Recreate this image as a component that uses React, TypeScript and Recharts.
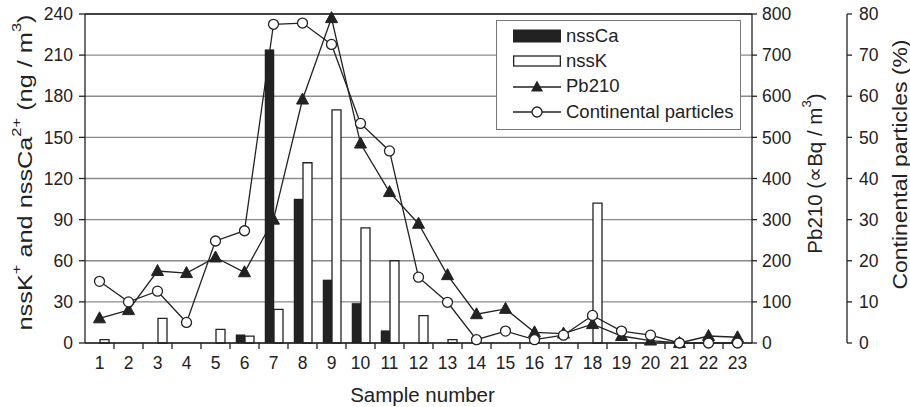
import React from 'react';
import { ComposedChart, Bar, Line, XAxis, YAxis, CartesianGrid, Legend, ReferenceLine } from 'recharts';

const samples = ['1', '2', '3', '4', '5', '6', '7', '8', '9', '10', '11', '12', '13', '14', '15', '16', '17', '18', '19', '20', '21', '22', '23'];
const nssCa = [0, 0, 0, 0, 0, 6, 214, 105, 46, 29, 9, 0, 0, 0, 0, 0, 0, 0, 0, 0, 0, 0, 0];
const nssK = [2.5, 0, 18, 0, 10, 5, 24.5, 131.5, 170, 84, 60, 20, 2.5, 0, 0, 0, 0, 102, 0, 0, 0, 0, 0];
const pb210 = [60, 80, 175, 170, 208, 172, 300, 592, 790, 485, 367, 290, 165, 70, 83, 26, 23, 46, 17, 6, 0, 17, 14];
const continental = [15, 10, 12.6, 5, 24.8, 27.3, 77.5, 77.8, 72.6, 53.4, 46.7, 16, 9.9, 0.8, 2.9, 0.8, 1.9, 6.7, 2.9, 1.9, 0, 0, 0];

const leftTicks = [0, 30, 60, 90, 120, 150, 180, 210, 240];
const pbTicks = [0, 100, 200, 300, 400, 500, 600, 700, 800];
const contTicks = [0, 10, 20, 30, 40, 50, 60, 70, 80];

const legendItems = ['nssCa', 'nssK', 'Pb210', 'Continental particles'];

const data = samples.map((s, i) => ({
  sample: s,
  nssCa: nssCa[i],
  nssK: nssK[i],
  pb210: pb210[i],
  continental: continental[i],
}));

const FONT = '"Liberation Sans", Arial, Helvetica, sans-serif';
const INK = '#222';
const tickStyle = { fontSize: 17.5, fill: INK, fontFamily: FONT };
const titleStyle: React.CSSProperties = { fontSize: 20.5, fill: INK, fontFamily: FONT };

const XTick = (props: any) => {
  const { x, y, payload, index } = props;
  const half = payload && payload.offset ? payload.offset : 14.5;
  const axisY = y - 14;
  return (
    <g>
      {index > 0 && (
        <line x1={x - half} x2={x - half} y1={axisY} y2={axisY + 6} stroke={INK} strokeWidth={1.3} />
      )}
      <text x={x} y={y} dy="0.71em" textAnchor="middle" style={tickStyle}>
        {payload.value}
      </text>
    </g>
  );
};

const Triangle = (props: any) => {
  const { cx, cy, index } = props;
  if (cx == null || cy == null) return <g key={`t-${index}`} />;
  return (
    <path
      key={`t-${index}`}
      d={`M${cx},${cy - 6.5} L${cx + 6},${cy + 4.5} L${cx - 6},${cy + 4.5} Z`}
      fill={INK}
      stroke={INK}
      strokeWidth={1}
    />
  );
};

const LeftTitle = (props: any) => {
  const vb = props.viewBox || { x: 0, y: 14, width: 85, height: 329 };
  const cx = vb.x + 24;
  const cy = vb.y + vb.height / 2 - 6;
  return (
    <text
      x={cx}
      y={cy}
      transform={`rotate(-90 ${cx} ${cy})`}
      textAnchor="middle"
      dominantBaseline="central"
      textLength={316}
      lengthAdjust="spacingAndGlyphs"
      style={titleStyle}
    >
      nssK<tspan baselineShift="super" fontSize="65%">+</tspan> and nssCa<tspan baselineShift="super" fontSize="65%">2+</tspan> (ng / m<tspan baselineShift="super" fontSize="65%">3</tspan>)
    </text>
  );
};

const PbTitle = (props: any) => {
  const vb = props.viewBox || { x: 752, y: 14, width: 95, height: 329 };
  const cx = vb.x + 62;
  const cy = vb.y + vb.height / 2 - 5;
  return (
    <text x={cx} y={cy} transform={`rotate(-90 ${cx} ${cy})`} textAnchor="middle" dominantBaseline="central" style={titleStyle}>
      Pb210 (∝Bq / m<tspan baselineShift="super" fontSize="65%">3</tspan>)
    </text>
  );
};

const ContTitle = (props: any) => {
  const vb = props.viewBox || { x: 847, y: 14, width: 63, height: 329 };
  const cx = vb.x + 52;
  const cy = vb.y + vb.height / 2 - 14;
  return (
    <text
      x={cx}
      y={cy}
      transform={`rotate(-90 ${cx} ${cy})`}
      textAnchor="middle"
      dominantBaseline="central"
      textLength={250}
      lengthAdjust="spacingAndGlyphs"
      style={titleStyle}
    >
      Continental particles (%)
    </text>
  );
};

const LegendIcon = ({ i }: { i: number }) => {
  if (i === 0) {
    return (
      <svg width={48} height={14} style={{ display: 'block' }}>
        <rect x={0.5} y={1} width={47} height={12} fill={INK} stroke={INK} />
      </svg>
    );
  }
  if (i === 1) {
    return (
      <svg width={48} height={14} style={{ display: 'block' }}>
        <rect x={0.65} y={2} width={46.7} height={10} fill="#fff" stroke={INK} strokeWidth={1.3} />
      </svg>
    );
  }
  if (i === 2) {
    return (
      <svg width={48} height={14} style={{ display: 'block' }}>
        <line x1={0} x2={48} y1={8} y2={8} stroke={INK} strokeWidth={1.3} />
        <path d="M24,1.5 L30,12.5 L18,12.5 Z" fill={INK} />
      </svg>
    );
  }
  return (
    <svg width={48} height={14} style={{ display: 'block' }}>
      <line x1={0} x2={48} y1={7} y2={7} stroke={INK} strokeWidth={1.3} />
      <circle cx={24} cy={7} r={5} fill="#fff" stroke={INK} strokeWidth={1.3} />
    </svg>
  );
};

const LegendBox = () => (
  <div
    style={{
      width: 245,
      height: 110,
      boxSizing: 'border-box',
      border: '1.3px solid #777',
      background: '#fff',
      fontFamily: FONT,
      fontSize: 18.5,
      color: INK,
      paddingTop: 2,
      paddingLeft: 16,
    }}
  >
    {legendItems.map((name, i) => (
      <div key={name} style={{ display: 'flex', alignItems: 'center', height: 25.3 }}>
        <LegendIcon i={i} />
        <span style={{ marginLeft: 5, lineHeight: '20px' }}>{name}</span>
      </div>
    ))}
  </div>
);

export default function App() {
  return (
    <div style={{ position: 'absolute', left: 0, top: 0, width: 910, height: 407, background: '#fff' }}>
      <ComposedChart
        width={910}
        height={407}
        data={data}
        margin={{ top: 14, right: 0, bottom: 0, left: 0 }}
        barGap={0}
      >
        <CartesianGrid yAxisId="left" xAxisId="cat" vertical={false} stroke="#8a8a8a" strokeWidth={1.3} />
        <XAxis
          xAxisId="cat"
          dataKey="sample"
          height={64}
          interval={0}
          tickLine={false}
          tickSize={6}
          tickMargin={8}
          tick={<XTick />}
          axisLine={{ stroke: INK, strokeWidth: 1.3 }}
          label={{ value: 'Sample number', position: 'insideBottom', offset: 5, dx: 4, style: titleStyle }}
        />
        <YAxis
          yAxisId="left"
          orientation="left"
          width={85}
          domain={[0, 240]}
          ticks={leftTicks}
          interval={0}
          tickSize={6}
          tickMargin={6}
          tick={tickStyle}
          axisLine={{ stroke: INK, strokeWidth: 1.3 }}
          tickLine={{ stroke: INK, strokeWidth: 1.3 }}
          label={{ content: LeftTitle }}
        />
        <YAxis
          yAxisId="b_cont"
          orientation="right"
          width={63}
          domain={[0, 80]}
          ticks={contTicks}
          interval={0}
          tickSize={5}
          tickMargin={7}
          tick={tickStyle}
          axisLine={{ stroke: INK, strokeWidth: 1.3 }}
          tickLine={{ stroke: INK, strokeWidth: 1.3 }}
          label={{ content: ContTitle }}
        />
        <YAxis
          yAxisId="a_pb"
          orientation="right"
          width={95}
          domain={[0, 800]}
          ticks={pbTicks}
          interval={0}
          tickSize={5}
          tickMargin={5}
          tick={tickStyle}
          axisLine={{ stroke: INK, strokeWidth: 1.3 }}
          tickLine={{ stroke: INK, strokeWidth: 1.3 }}
          label={{ content: PbTitle }}
        />
        <ReferenceLine yAxisId="left" xAxisId="cat" y={240} stroke={INK} strokeWidth={1.6} />
        <Bar xAxisId="cat" yAxisId="left" dataKey="nssCa" barSize={9} fill={INK} stroke={INK} strokeWidth={0.5} isAnimationActive={false} />
        <Bar xAxisId="cat" yAxisId="left" dataKey="nssK" barSize={9} fill="#fff" stroke={INK} strokeWidth={1.3} isAnimationActive={false} />
        <Line
          xAxisId="cat"
          yAxisId="a_pb"
          type="linear"
          dataKey="pb210"
          stroke={INK}
          strokeWidth={1.3}
          dot={(p: any) => <Triangle {...p} key={`tri-${p.index}`} />}
          activeDot={false}
          isAnimationActive={false}
        />
        <Line
          xAxisId="cat"
          yAxisId="b_cont"
          type="linear"
          dataKey="continental"
          stroke={INK}
          strokeWidth={1.3}
          dot={{ r: 5, fill: '#fff', stroke: INK, strokeWidth: 1.3 }}
          activeDot={false}
          isAnimationActive={false}
        />
        <Legend
          layout="vertical"
          align="center"
          verticalAlign="middle"
          content={<LegendBox />}
          wrapperStyle={{ left: 496, top: 20, width: 245, height: 110 }}
        />
      </ComposedChart>
    </div>
  );
}
